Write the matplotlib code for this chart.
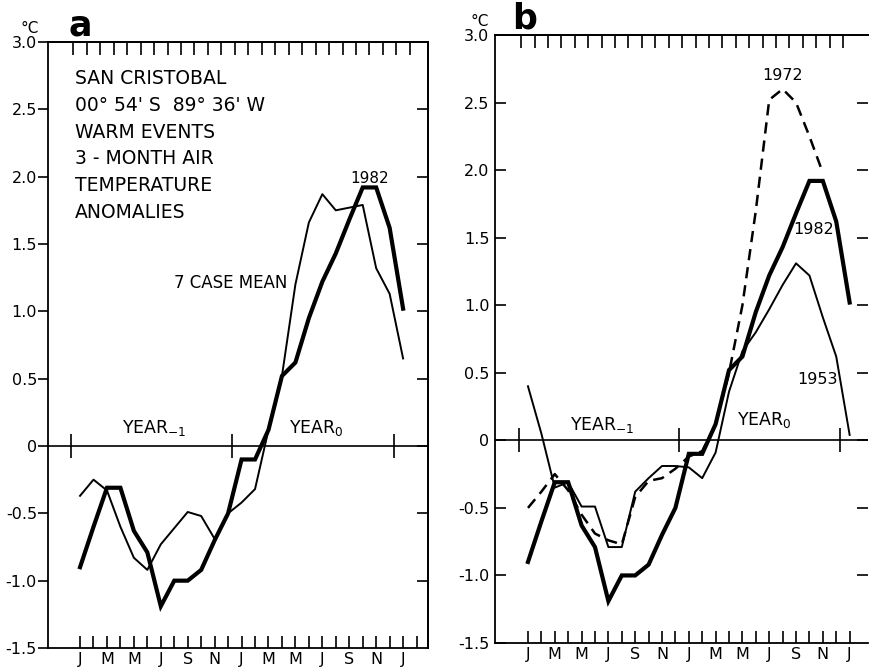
"""
San Cristobal warm events - 3-month air temperature anomalies (panels a and b)
"""
import matplotlib.pyplot as plt
import numpy as np

# month index: 0 = Jan of YEAR-1, 12 = Jan of YEAR0, 24 = Jan of YEAR+1
months = np.arange(25)
month_ticks = np.arange(0, 25, 2)
month_labels = ["J", "M", "M", "J", "S", "N", "J", "M", "M", "J", "S", "N", "J"]

mean_7case = [-0.37, -0.25, -0.33, -0.60, -0.83, -0.92, -0.73, -0.61, -0.49,
              -0.52, -0.69, -0.50, -0.42, -0.32, 0.12, 0.52, 1.20, 1.66,
              1.87, 1.75, 1.77, 1.79, 1.32, 1.13, 0.65]
t1982 = [-0.90, -0.60, -0.31, -0.31, -0.63, -0.79, -1.19, -1.00, -1.00,
         -0.92, -0.70, -0.50, -0.10, -0.10, 0.12, 0.52, 0.62, 0.95, 1.22,
         1.43, 1.68, 1.92, 1.92, 1.62, 1.02]
t1953 = [0.40, 0.05, -0.35, -0.31, -0.49, -0.49, -0.79, -0.79, -0.38,
         -0.28, -0.19, -0.19, -0.20, -0.28, -0.09, 0.36, 0.66, 0.80, 0.97,
         1.15, 1.31, 1.22, 0.91, 0.62, 0.04]
t1972 = [-0.50, -0.38, -0.25, -0.37, -0.55, -0.69, -0.74, -0.77, -0.42,
         -0.30, -0.28, -0.21, -0.12, -0.08, 0.12, 0.50, 1.00, 1.70, 2.52,
         2.60, 2.50, 2.25, 1.98]
months_1972 = np.arange(len(t1972))

yticks = [3.0, 2.5, 2.0, 1.5, 1.0, 0.5, 0, -0.5, -1.0, -1.5]
ytick_labels = ["3.0", "2.5", "2.0", "1.5", "1.0", "0.5", "0", "-0.5",
                "-1.0", "-1.5"]
year_marks = [-0.7, 11.3, 23.3]

info_lines = ["SAN CRISTOBAL", "00\u00b0 54' S  89\u00b0 36' W", "WARM EVENTS",
              "3 - MONTH AIR", "TEMPERATURE", "ANOMALIES"]

THICK = 3.0
THIN = 1.4
FS = 11.5

plt.rcParams['font.family'] = ['DejaVu Sans']
plt.rcParams['mathtext.fontset'] = 'dejavusans'


def style_axes(ax, xlim, minor_months, top_months, left_out, right_spine):
    ax.set_xlim(*xlim)
    ax.set_ylim(-1.5, 3.0)
    for s in ax.spines.values():
        s.set_linewidth(1.3)
    ax.spines['right'].set_visible(right_spine)

    ax.set_xticks(month_ticks, month_labels, fontsize=FS)
    ax.set_xticks(minor_months, minor=True)
    ax.tick_params(axis='x', which='both', direction='in', length=9,
                   width=1.2, pad=3)

    ax.set_yticks(yticks, ytick_labels, fontsize=FS)
    if left_out:
        ax.tick_params(axis='y', direction='out', length=7, width=1.2, pad=1)
    else:
        ax.tick_params(axis='y', direction='in', length=8, width=1.2, pad=4)

    top = ax.secondary_xaxis('top')
    top.set_xticks(top_months)
    top.tick_params(direction='in', length=9, width=1.2, labeltop=False)
    top.spines['top'].set_linewidth(1.3)

    right = ax.secondary_yaxis('right')
    right.set_yticks(yticks[1:-1])
    right.tick_params(direction='in', length=8, width=1.2, labelright=False)
    right.spines['right'].set_visible(right_spine)
    right.spines['right'].set_linewidth(1.3)

    # zero line with year boundary marks
    ax.axhline(0, color='k', lw=1.2)
    ax.plot(year_marks, [0] * len(year_marks), ls='none', marker='|',
            ms=17, mew=1.2, color='k')


fig = plt.figure(figsize=(8.7, 6.69), dpi=100)
ax_a = fig.add_axes([48 / 870, 21 / 669, 380 / 870, 606 / 669])
ax_b = fig.add_axes([495 / 870, 26 / 669, 373 / 870, 608 / 669])

# ---- panel a
style_axes(ax_a, (-2.38, 25.85), np.arange(1, 26, 2), np.arange(-0.5, 25),
           True, True)
ax_a.plot(months, mean_7case, color='k', lw=THIN)
ax_a.plot(months, t1982, color='k', lw=THICK, solid_joinstyle='miter')

for i, line in enumerate(info_lines):
    ax_a.text(0.071, 0.94 - i * 0.0443, line, transform=ax_a.transAxes,
              fontsize=13.5, va='center', ha='left')
ax_a.text(15.4, 1.21, "7 CASE MEAN", fontsize=12, ha='right', va='center')
ax_a.text(21.5, 1.99, "1982", fontsize=11, ha='center', va='center')
ax_a.text(3.1, 0.13, r"YEAR$_{-1}$", fontsize=12.5, ha='left', va='center')
ax_a.text(15.5, 0.13, r"YEAR$_{0}$", fontsize=12.5, ha='left', va='center')
ax_a.text(0.084, 1.027, "a", transform=ax_a.transAxes, fontsize=25,
          fontweight='heavy', ha='center', va='center')
ax_a.text(-0.047, 1.022, "\u00b0C", transform=ax_a.transAxes, fontsize=11,
          ha='center', va='center')

# ---- panel b
style_axes(ax_b, (-2.46, 25.37), np.arange(1, 24, 2), np.arange(-0.5, 24),
           False, False)
ax_b.plot(months, t1953, color='k', lw=THIN)
ax_b.plot(months_1972, t1972, color='k', lw=1.8, dashes=(4.5, 2.8))
ax_b.plot(months, t1982, color='k', lw=THICK, solid_joinstyle='miter')

ax_b.text(19.0, 2.70, "1972", fontsize=11.5, ha='center', va='center')
ax_b.text(21.3, 1.56, "1982", fontsize=11.5, ha='center', va='center')
ax_b.text(21.6, 0.45, "1953", fontsize=11.5, ha='center', va='center')
ax_b.text(3.1, 0.11, r"YEAR$_{-1}$", fontsize=12.5, ha='left', va='center')
ax_b.text(15.6, 0.15, r"YEAR$_{0}$", fontsize=12.5, ha='left', va='center')
ax_b.text(0.08, 1.027, "b", transform=ax_b.transAxes, fontsize=25,
          fontweight='heavy', ha='center', va='center')
ax_b.text(-0.04, 1.022, "\u00b0C", transform=ax_b.transAxes, fontsize=11,
          ha='center', va='center')

fig.savefig("out.png", dpi=100)
